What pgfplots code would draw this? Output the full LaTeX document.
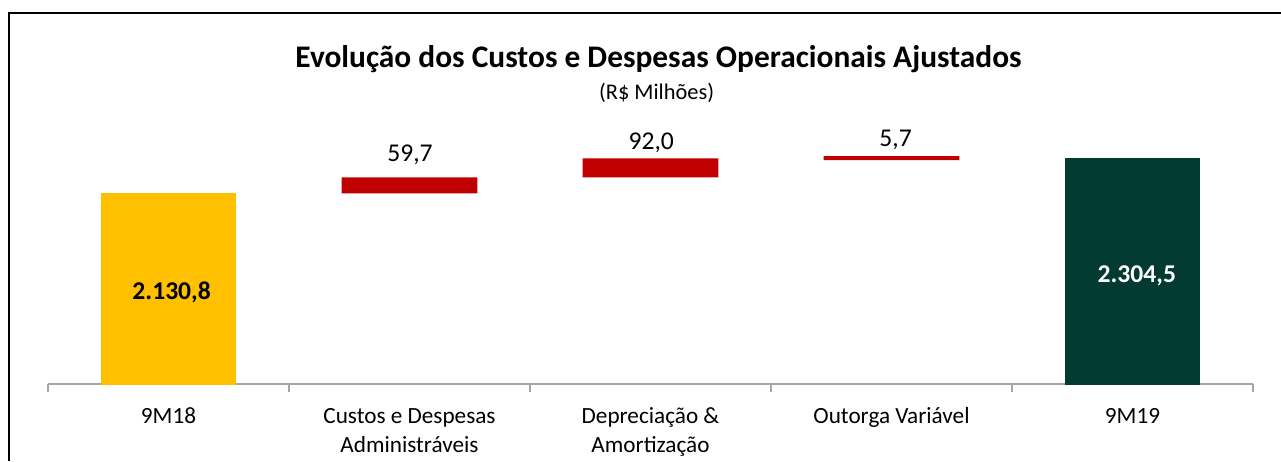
\documentclass[border=0pt]{standalone}
\usepackage{pgfplots}
\pgfplotsset{compat=1.18}
\usepackage{pgfplotstable}
\usepackage{fontspec}
\setmainfont{Carlito}
\definecolor{cYel}{HTML}{FFC000}
\definecolor{cRed}{HTML}{C00000}
\definecolor{cGrn}{HTML}{033A32}
\definecolor{cAx}{HTML}{A6A6A6}
\pgfplotstableread{
x base yel red grn
0 0 2130.8 0 0
1 2130.8 0 79.2 0
2 2210.0 0 94.0 0
3 2295.0 0 19.8 0
4 0 0 0 2304.5
}\wf
\begin{document}
\begin{tikzpicture}[x=1pt,y=1pt]
\useasboundingbox (0,0) rectangle (640.5,230.5);
\draw[line width=1pt, black] (4.5,0) -- (4.5,223.75) -- (640.5,223.75);
\begin{axis}[
  at={(24pt,38.25pt)}, anchor=south west,
  scale only axis, width=602.5pt, height=132.25pt,
  xmin=-0.5, xmax=4.5, ymin=1184.7, ymax=2493.4,
  axis x line=bottom, axis y line=none,
  x axis line style={-, draw=cAx, line width=1pt},
  ybar stacked, bar width=0.564,
  xtick={0,1,2,3,4},
  xticklabels={9M18, {Custos e Despesas\\Administráveis}, {Depreciação \&\\Amortização}, Outorga Variável, 9M19},
  major tick length=0pt,
  minor xtick={-0.5,0.5,1.5,2.5,3.5,4.5},
  minor tick length=3.75pt,
  xtick align=outside,
  minor tick style={draw=cAx, line width=1pt},
  ytick=\empty,
  typeset ticklabels with strut,
  xticklabel style={font=\fontsize{11.6}{14.5}\selectfont, align=center, yshift=-5.75pt},
]
\addplot[draw=none, fill=none] table[x=x,y=base] {\wf};
\addplot[draw=none, fill=cYel] table[x=x,y=yel] {\wf};
\addplot[draw=none, fill=cRed] table[x=x,y=red] {\wf};
\addplot[draw=none, fill=cGrn] table[x=x,y=grn] {\wf};
\coordinate (lA) at (axis cs:0.013,1606.3);
\coordinate (lB) at (axis cs:4.018,1690.4);
\coordinate (lC) at (axis cs:1.002,2287.1);
\coordinate (lD) at (axis cs:2.003,2348.5);
\coordinate (lE) at (axis cs:3.017,2361.3);
\end{axis}
\node[anchor=base, font=\fontsize{12.8}{15}\selectfont\bfseries] at (lA) {2.130,8};
\node[anchor=base, font=\fontsize{12.8}{15}\selectfont\bfseries, text=white] at (lB) {2.304,5};
\node[anchor=base, font=\fontsize{12.8}{15}\selectfont] at (lC) {59,7};
\node[anchor=base, font=\fontsize{12.8}{15}\selectfont] at (lD) {92,0};
\node[anchor=base, font=\fontsize{12.8}{15}\selectfont] at (lE) {5,7};
\node[anchor=base, font=\fontsize{15.7}{18}\selectfont\bfseries] at (329.25,196.5) {Evolução dos Custos e Despesas Operacionais Ajustados};
\node[anchor=base, font=\fontsize{11.2}{13}\selectfont] at (328.3,180.85) {(R\$ Milhões)};
\end{tikzpicture}
\end{document}
